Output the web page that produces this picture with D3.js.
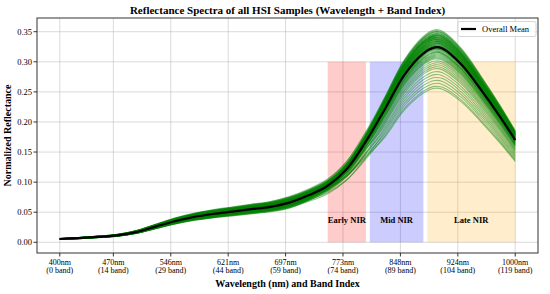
<!DOCTYPE html>
<html>
<head>
<meta charset="utf-8">
<script src="https://cdn.jsdelivr.net/npm/d3@7"></script>
<style>
  body { margin: 0; background: #fff; }
  svg { display: block; font-family: "Liberation Serif", "DejaVu Serif", serif; }
</style>
</head>
<body>
<div id="chart"></div>
<script>
// bandas (indice) onde o espectro medio foi lido
const meanBands = [0, 5, 10, 15, 20, 25, 30, 35, 40, 45, 50, 55, 60, 65, 70, 75, 80, 85, 90, 95, 98, 100, 105, 110, 115, 119];
const meanSpectrum = [0.0055, 0.007, 0.009, 0.0115, 0.017, 0.026, 0.035, 0.042, 0.047, 0.051, 0.055, 0.059, 0.066, 0.078, 0.094, 0.122, 0.168, 0.222, 0.278, 0.314, 0.324, 0.322, 0.295, 0.254, 0.209, 0.170];

// fator de cada amostra relativo a media (visivel / NIR)
const sampleVis = [1.12, 0.92, 1.05, 0.97, 1.15, 0.88, 1.02, 1.08, 0.95, 1.1, 0.9, 1.0, 1.06, 0.94, 1.13, 0.86, 1.03, 0.99, 1.09, 0.93,
                   1.01, 0.96, 1.11, 0.89, 1.04, 0.98, 1.07, 0.91, 1.14, 0.95, 1.0, 1.06, 0.87, 1.02, 0.97, 1.1, 0.92, 1.05, 0.99, 1.08,
                   0.94, 1.03, 0.9, 1.12, 0.96, 1.01, 0.88, 1.04, 0.93, 1.07, 0.98, 1.0, 1.03, 0.97, 1.09, 0.92, 1.01, 1.06, 0.95, 1.0,
                   1.04, 0.98, 1.11, 0.9, 1.02, 0.96, 1.07, 0.99];
const sampleNir = [1.09, 1.085, 1.08, 1.075, 1.07, 1.065, 1.06, 1.06, 1.055, 1.05, 1.05, 1.045, 1.04, 1.04, 1.035, 1.03, 1.03, 1.025, 1.02, 1.02,
                   1.015, 1.01, 1.01, 1.005, 1.0, 1.0, 0.995, 0.99, 0.985, 0.98, 0.975, 0.97, 0.965, 0.96, 0.955, 0.95, 0.945, 0.94, 0.93, 0.92,
                   0.91, 0.90, 0.89, 0.875, 0.86, 0.845, 0.83, 0.815, 0.80, 0.79, 1.07, 1.04, 1.065, 1.055, 1.045, 1.035, 1.025, 1.015, 1.005, 0.995,
                   1.08, 1.06, 1.05, 1.03, 1.02, 1.0, 0.99, 0.975];

const tickBands = [0, 14, 29, 44, 59, 74, 89, 104, 119];
const tickWavelengths = [400, 470, 546, 621, 697, 773, 848, 924, 1000];
const yTicks = [0.00, 0.05, 0.10, 0.15, 0.20, 0.25, 0.30, 0.35];

const regionNames = ["Early NIR", "Mid NIR", "Late NIR"];
const regionStart = [70, 81, 96];
const regionEnd = [80, 95, 119];
const regionTop = 0.30;
const regionColors = ["red", "blue", "orange"];

const W = 550, H = 294;
const margem = { left: 37, right: 12, top: 18, bottom: 41 };

const svg = d3.select("#chart").append("svg").attr("width", W).attr("height", H);

const x = d3.scaleLinear().domain([-5.95, 124.95]).range([margem.left, W - margem.right]);
const y = d3.scaleLinear().domain([-0.0178, 0.3728]).range([H - margem.bottom, margem.top]);

// grade
const grade = svg.append("g");
grade.selectAll(".gx").data(tickBands).enter().append("line")
    .attr("x1", d => x(d)).attr("x2", d => x(d))
    .attr("y1", y.range()[0]).attr("y2", y.range()[1])
    .attr("stroke", "#b0b0b0").attr("stroke-opacity", 0.6).attr("stroke-width", 0.8);
grade.selectAll(".gy").data(yTicks).enter().append("line")
    .attr("y1", d => y(d)).attr("y2", d => y(d))
    .attr("x1", x.range()[0]).attr("x2", x.range()[1])
    .attr("stroke", "#b0b0b0").attr("stroke-opacity", 0.6).attr("stroke-width", 0.8);

// regioes NIR
regionNames.forEach((nome, i) => {
    svg.append("rect")
        .attr("x", x(regionStart[i])).attr("y", y(regionTop))
        .attr("width", x(regionEnd[i]) - x(regionStart[i]))
        .attr("height", y(0) - y(regionTop))
        .attr("fill", regionColors[i]).attr("fill-opacity", 0.2);
    svg.append("text")
        .attr("x", x((regionStart[i] + regionEnd[i]) / 2)).attr("y", y(0.037))
        .attr("text-anchor", "middle").attr("dominant-baseline", "central")
        .style("font-size", "8.5px").style("font-weight", "bold")
        .text(nome);
});

// curvas das amostras
const linha = d3.line().x(d => x(d[0])).y(d => y(d[1])).curve(d3.curveCatmullRom);
const plot = svg.append("g");
sampleNir.forEach((fNir, s) => {
    const fVis = sampleVis[s];
    const pts = meanBands.map((b, i) => {
        const w = Math.max(0, Math.min(1, (b - 60) / 25));
        return [b, meanSpectrum[i] * (fVis * (1 - w) + fNir * w)];
    });
    plot.append("path").attr("d", linha(pts))
        .attr("fill", "none").attr("stroke", "green")
        .attr("stroke-opacity", 0.45).attr("stroke-width", 1.1);
});

// media geral
plot.append("path").attr("d", linha(meanBands.map((b, i) => [b, meanSpectrum[i]])))
    .attr("fill", "none").attr("stroke", "black").attr("stroke-width", 2.2);

// moldura
svg.append("rect")
    .attr("x", x.range()[0]).attr("y", y.range()[1])
    .attr("width", x.range()[1] - x.range()[0]).attr("height", y.range()[0] - y.range()[1])
    .attr("fill", "none").attr("stroke", "#333").attr("stroke-width", 1);

// eixo x
const eixoX = svg.append("g");
tickBands.forEach((b, i) => {
    eixoX.append("line").attr("x1", x(b)).attr("x2", x(b))
        .attr("y1", y.range()[0]).attr("y2", y.range()[0] + 3.5).attr("stroke", "#333");
    eixoX.append("text").attr("x", x(b)).attr("y", 264.5)
        .attr("text-anchor", "middle").style("font-size", "8px")
        .text(tickWavelengths[i] + "nm");
    eixoX.append("text").attr("x", x(b)).attr("y", 272.5)
        .attr("text-anchor", "middle").style("font-size", "8px")
        .text("(" + b + " band)");
});

// eixo y
const eixoY = svg.append("g");
yTicks.forEach(v => {
    eixoY.append("line").attr("x1", x.range()[0] - 3.5).attr("x2", x.range()[0])
        .attr("y1", y(v)).attr("y2", y(v)).attr("stroke", "#333");
    eixoY.append("text").attr("x", x.range()[0] - 5).attr("y", y(v))
        .attr("text-anchor", "end").attr("dominant-baseline", "central")
        .style("font-size", "8.5px").text(v.toFixed(2));
});

// titulos
svg.append("text").attr("x", (x.range()[0] + x.range()[1]) / 2).attr("y", 13.5)
    .attr("text-anchor", "middle").style("font-size", "11px").style("font-weight", "bold")
    .text("Reflectance Spectra of all HSI Samples (Wavelength + Band Index)");
svg.append("text").attr("x", (x.range()[0] + x.range()[1]) / 2).attr("y", 287)
    .attr("text-anchor", "middle").style("font-size", "10px").style("font-weight", "bold")
    .text("Wavelength (nm) and Band Index");
svg.append("text")
    .attr("transform", `translate(11,${(y.range()[0] + y.range()[1]) / 2}) rotate(-90)`)
    .attr("text-anchor", "middle").style("font-size", "10px").style("font-weight", "bold")
    .text("Normalized Reflectance");

// legenda
const leg = svg.append("g");
leg.append("rect").attr("x", 458).attr("y", 21.5).attr("width", 78).attr("height", 15).attr("rx", 2)
    .attr("fill", "white").attr("fill-opacity", 0.8).attr("stroke", "#ccc").attr("stroke-width", 0.8);
leg.append("line").attr("x1", 461).attr("x2", 476).attr("y1", 29).attr("y2", 29)
    .attr("stroke", "black").attr("stroke-width", 2.2);
leg.append("text").attr("x", 482).attr("y", 29).attr("dominant-baseline", "central")
    .style("font-size", "8.5px").text("Overall Mean");
</script>
</body>
</html>
